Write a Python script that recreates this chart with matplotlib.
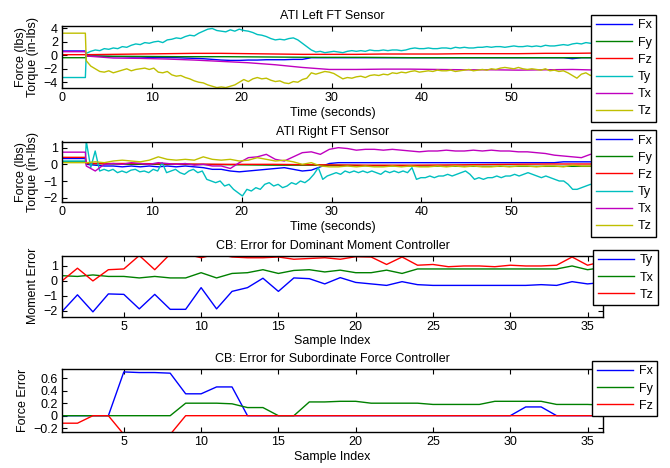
import numpy as np
import matplotlib
matplotlib.use("Agg")
import matplotlib.pyplot as plt
from matplotlib.ticker import FuncFormatter

plt.rcParams['font.family'] = ['Liberation Sans', 'DejaVu Sans']
plt.rcParams['font.size'] = 9

# ---------------- data ----------------
labels6 = ['Fx', 'Fy', 'Fz', 'Ty', 'Tx', 'Tz']
pre_t = [0.0, 1.3, 2.6]

# Left sensor: values before the step (t = 0..2.6 s)
L_pre = {'Fx': 0.65, 'Fy': -0.35, 'Fz': 0.1, 'Ty': -3.3, 'Tx': 0.55, 'Tz': 3.3}
L_Fx = [-0.1, -0.1, -0.15, -0.2, -0.2, -0.25, -0.25, -0.3, -0.3, -0.35,
        -0.35, -0.4, -0.45, -0.5, -0.6, -0.7, -0.75, -0.75, -0.7, -0.7,
        -0.65, -0.65, -0.65, -0.6, -0.6, -0.35, -0.35, -0.35, -0.35, -0.35,
        -0.35, -0.35, -0.35, -0.35, -0.35, -0.35, -0.35, -0.35, -0.35, -0.35,
        -0.35, -0.35, -0.35, -0.35, -0.35, -0.35, -0.35, -0.35, -0.35, -0.35,
        -0.35, -0.35, -0.35, -0.35, -0.5, -0.35, -0.35, -0.35]
L_Fy = [-0.1, -0.15, -0.2, -0.2, -0.25, -0.3, -0.3, -0.35, -0.35, -0.35, -0.35, -0.35]
L_Fz = [0.1, 0.15, 0.2, 0.25, 0.3, 0.3, 0.25, 0.2, 0.15, 0.15,
        0.15, 0.2, 0.2, 0.2, 0.25, 0.25, 0.25, 0.3, 0.3, 0.35]
L_Ty = [0.3, 0.6, 0.8, 0.7, 1.0, 0.9, 1.1, 1.0, 1.3, 1.2,
        1.5, 1.7, 1.6, 1.9, 1.8, 2.0, 2.1, 1.9, 2.3, 2.4,
        2.6, 2.5, 2.8, 3.0, 2.9, 3.3, 3.6, 3.9, 4.0, 3.7,
        3.6, 3.5, 3.8, 3.6, 3.9, 3.7, 3.6, 3.4, 3.1, 3.0,
        2.8, 2.5, 2.3, 2.4, 2.3, 2.5, 2.6, 2.3, 1.8, 1.3,
        0.8, 0.5, 0.6, 0.4, 0.5, 0.6, 0.5, 0.4, 0.6, 0.7,
        0.6, 0.7, 0.6, 0.8, 0.7, 0.7, 0.8, 0.7, 0.8, 0.8,
        0.7, 0.8, 1.0, 1.1, 1.0, 1.0, 1.1, 1.0, 1.0, 1.1,
        1.1, 1.0, 1.2, 1.1, 1.2, 1.1, 1.1, 1.2, 1.2, 1.3,
        1.2, 1.3, 1.3, 1.2, 1.3, 1.4, 1.3, 1.3, 1.4, 1.3,
        1.4, 1.3, 1.5, 1.4, 1.4, 1.5, 1.6, 1.5, 1.7, 1.8,
        1.7, 1.9, 1.8, 1.9, 2.0]
L_Tx = [-0.1, -0.4, -0.45, -0.55, -0.7, -0.9, -1.1, -1.4, -1.8, -2.1,
        -2.1, -2.05, -2.05, -2.1, -2.15, -2.15, -2.2, -2.15, -2.1, -2.2]
L_Tz = [-0.8, -1.6, -2.0, -2.4, -2.5, -2.3, -2.6, -2.4, -2.2, -2.0,
        -2.3, -2.1, -2.0, -1.9, -2.1, -1.9, -2.5, -2.6, -2.4, -2.9,
        -3.1, -3.0, -3.3, -3.5, -3.8, -4.0, -4.1, -4.4, -4.6, -4.8,
        -4.7, -4.8, -4.6, -4.4, -4.0, -3.6, -3.9, -3.5, -3.3, -3.5,
        -3.4, -3.7, -3.9, -3.8, -4.1, -4.2, -3.9, -4.0, -3.6, -3.4,
        -2.6, -2.8, -2.6, -2.4, -2.5, -2.7, -3.1, -3.5, -3.3, -3.4,
        -3.2, -3.1, -3.3, -3.0, -2.9, -3.0, -2.8, -2.9, -2.6, -2.7,
        -2.5, -2.6, -2.4, -2.3, -2.5, -2.4, -2.3, -2.4, -2.2, -2.3,
        -2.3, -2.2, -2.4, -2.3, -2.2, -2.1, -2.3, -2.2, -2.1, -2.2,
        -2.0, -2.1, -1.9, -1.8, -1.9, -2.0, -1.8, -2.0, -2.1, -2.0,
        -2.1, -2.2, -2.0, -2.3, -2.2, -2.4, -2.3, -2.6, -3.0, -3.4,
        -2.8, -2.6, -3.0, -2.7, -2.9]

# Right sensor
R_pre = {'Fx': 0.35, 'Fy': 0.15, 'Fz': 0.42, 'Ty': 0.2, 'Tx': 0.73, 'Tz': 0.1}
R_Fx = [0.0, -0.05, -0.1, -0.1, -0.15, -0.1, -0.15, -0.1, -0.15, -0.1,
        -0.15, -0.1, -0.15, -0.2, -0.3, -0.3, -0.4, -0.45, -0.4, -0.35,
        -0.3, -0.25, -0.2, -0.3, -0.4, -0.35, -0.15, 0.05, 0.1, 0.1,
        0.1, 0.1, 0.1, 0.1, 0.1, 0.1, 0.1, 0.1, 0.1, 0.1,
        0.1, 0.1, 0.1, 0.1, 0.1, 0.1, 0.1, 0.1, 0.1, 0.1,
        0.1, 0.1, 0.1, 0.15, 0.15, 0.15, 0.15, 0.15]
R_Fy = [0.05, 0.0, 0.0, -0.02, -0.05, -0.05, -0.08, -0.1, -0.12, -0.12, -0.12, -0.12]
R_Fz = [0.05, 0.05, 0.02, 0.0, 0.0, -0.03, -0.05, -0.05, -0.03, 0.0, 0.02, 0.02]
R_Ty = [1.4, -0.2, 0.8, -0.4, -0.3, -0.4, -0.3, -0.5, -0.4, -0.5, -0.35,
        -0.3, -0.45, -0.4, -0.5, -0.3, -0.4, 0.1, -0.5, -0.4, -0.3,
        -0.5, -0.6, -0.4, -0.3, -0.5, -0.4, -0.9, -1.0, -1.1, -1.0,
        -1.3, -1.2, -1.5, -1.7, -1.9, -1.5, -1.6, -1.4, -1.5, -1.2,
        -1.1, -1.3, -1.2, -1.4, -1.3, -1.1, -1.2, -1.0, -1.1, -0.9,
        -0.6, -0.2, -0.9, -0.7, -0.6, -0.5, -0.6, -0.4, -0.5, -0.4,
        -0.5, -0.4, -0.5, -0.4, -0.5, -0.6, -0.4, -0.5, -0.4, -0.5,
        -0.4, -0.5, -0.2, -0.9, -0.8, -0.8, -0.7, -0.8, -0.7, -0.7,
        -0.6, -0.7, -0.6, -0.5, -0.4, -0.6, -0.9, -0.8, -0.9, -0.8,
        -0.8, -0.7, -0.8, -0.7, -0.7, -0.6, -0.7, -0.6, -0.5, -0.6,
        -0.7, -0.8, -0.7, -0.8, -0.9, -1.0, -1.0, -1.2, -1.5, -1.5,
        -1.4, -1.3, -1.2, -1.3, -1.2]
R_Tx = [-0.1, -0.4, 0.0, 0.05, 0.0, 0.1, 0.05, 0.0, 0.1, 0.05,
        0.0, 0.05, -0.05, 0.0, -0.1, -0.1, -0.25, 0.1, 0.4, 0.45,
        0.6, 0.3, 0.2, 0.45, 0.7, 0.75, 0.6, 0.9, 1.0, 0.95,
        0.85, 0.9, 0.9, 0.85, 0.9, 0.85, 0.8, 0.75, 0.8, 0.8,
        0.85, 0.8, 0.8, 0.85, 0.8, 0.85, 0.8, 0.8, 0.75, 0.75,
        0.7, 0.65, 0.55, 0.5, 0.45, 0.4, 0.6, 0.6]
R_Tz = [0.1, 0.15, 0.1, 0.2, 0.25, 0.2, 0.15, 0.25, 0.45, 0.3,
        0.25, 0.3, 0.25, 0.45, 0.3, 0.25, 0.3, 0.2, 0.25, 0.4,
        0.3, 0.2, 0.25, 0.15, 0.0, 0.1, -0.1, -0.15, -0.15, -0.1,
        -0.15, -0.1, -0.15, -0.15, -0.1, -0.15, -0.1, -0.15, -0.15, -0.1,
        -0.15, -0.1, -0.15, -0.1, -0.15, -0.15, -0.1, -0.15, -0.1, -0.1,
        -0.15, -0.1, -0.1, -0.15, -0.05, -0.1, -0.1, -0.1]

# Dominant moment controller error (samples 1..36)
samples = list(range(1, 37))
M_Ty = [-2.05, -0.93, -2.07, -0.87, -0.9, -1.87, -0.9, -1.9, -1.9, -0.45,
        -1.87, -0.7, -0.45, 0.18, -0.7, 0.2, 0.15, -0.2, 0.22, -0.1,
        -0.2, -0.3, -0.05, -0.25, -0.3, -0.3, -0.3, -0.3, -0.3, -0.3,
        -0.3, -0.25, -0.3, -0.05, -0.2, -0.1]
M_Tx = [0.35, 0.3, 0.4, 0.3, 0.3, 0.2, 0.3, 0.2, 0.2, 0.55,
        0.2, 0.5, 0.55, 0.75, 0.5, 0.7, 0.75, 0.6, 0.72, 0.55,
        0.55, 0.72, 0.5, 0.8, 0.8, 0.8, 0.8, 0.8, 0.8, 0.8,
        0.8, 0.8, 0.8, 1.0, 0.75, 0.9]
M_Tz = [0.0, 0.85, 0.0, 0.75, 0.8, 1.7, 0.75, 1.8, 1.8, 1.55,
        1.8, 1.6, 1.55, 1.55, 1.6, 1.45, 1.5, 1.55, 1.45, 1.62,
        1.6, 1.1, 1.6, 1.05, 1.1, 0.95, 1.0, 1.0, 0.95, 1.05,
        1.0, 1.0, 1.05, 1.6, 1.05, 1.3]

# Subordinate force controller error
F_Fx = [0, 0, 0, 0, 0.7, 0.69, 0.69, 0.68, 0.35, 0.35,
        0.46, 0.46, 0, 0, 0, 0, 0, 0, 0, 0,
        0, 0, 0, 0, 0, 0, 0, 0, 0, 0,
        0.14, 0.14, 0, 0, 0, 0]
F_Fy = [0, 0, 0, 0, 0, 0, 0, 0, 0.2, 0.2,
        0.2, 0.19, 0.13, 0.13, 0, 0, 0.22, 0.22, 0.23, 0.23,
        0.2, 0.2, 0.2, 0.2, 0.18, 0.18, 0.18, 0.18, 0.23, 0.23,
        0.23, 0.23, 0.18, 0.18, 0.18, 0.17]
F_Fz = [-0.12, -0.12, 0, 0, -0.3, -0.3, -0.3, -0.3, 0, 0,
        0, 0, 0, 0, 0, 0, 0, 0, 0, 0,
        0, 0, 0, 0, 0, 0, 0, 0, 0, 0,
        0, 0, 0, 0, 0, 0]

# ---------------- styling ----------------
C = {'Fx': (0, 0, 1), 'Fy': (0, 0.5, 0), 'Fz': (1, 0, 0),
     'Ty': (0, 0.75, 0.75), 'Tx': (0.75, 0, 0.75), 'Tz': (0.75, 0.75, 0)}
W, H = 670, 468
fig = plt.figure(figsize=(W / 100, H / 100), dpi=100)


def axes_px(left, top, right, bottom):
    return fig.add_axes([left / W, 1 - bottom / H, (right - left) / W, (bottom - top) / H])


def style(ax):
    ax.tick_params(direction='in', top=True, right=True, length=3.5, width=0.8,
                   labelsize=9, pad=3)
    for s in ax.spines.values():
        s.set_linewidth(1.0)
    ax.yaxis.set_major_formatter(FuncFormatter(lambda v, p: ('%g' % v).replace('-', '\u2212')))
    ax.xaxis.set_major_formatter(FuncFormatter(lambda v, p: '%g' % v))


def legend(ax, lines, labs, x, y):
    leg = ax.legend(lines, labs, loc='upper left', bbox_to_anchor=(x / W, 1 - y / H),
                    bbox_transform=fig.transFigure, fancybox=False, edgecolor='black',
                    framealpha=1, borderaxespad=0, handlelength=2.9, handletextpad=0.5,
                    labelspacing=0.41, borderpad=0.36, fontsize=9)
    leg.get_frame().set_linewidth(1.0)
    leg.set_zorder(10)


def series(pre, post):
    t = np.concatenate([pre_t, np.linspace(2.7, 59.8, len(post))])
    v = np.concatenate([[pre] * len(pre_t), post])
    return t, v


LW = 1.0
# ---- panel 1
ax1 = axes_px(62, 26, 603, 88)
data_L = {'Fx': L_Fx, 'Fy': L_Fy, 'Fz': L_Fz, 'Ty': L_Ty, 'Tx': L_Tx, 'Tz': L_Tz}
lines = []
for k in labels6:
    t, v = series(L_pre[k], data_L[k])
    lines += ax1.plot(t, v, color=C[k], lw=LW)
ax1.set_xlim(0, 60.2)
ax1.set_ylim(-4.86, 4.37)
ax1.set_yticks([-4, -2, 0, 2, 4])
ax1.set_xticks([0, 10, 20, 30, 40, 50])
style(ax1)
ax1.set_title('ATI Left FT Sensor', fontsize=9, pad=5)
ax1.set_xlabel('Time (seconds)', fontsize=9, labelpad=2)
ax1.set_ylabel('Force (lbs)\nTorque (in-lbs)', fontsize=9, linespacing=1.0, labelpad=3)
legend(ax1, lines, labels6, 591, 15)

# ---- panel 2
ax2 = axes_px(62, 141.5, 603, 202)
data_R = {'Fx': R_Fx, 'Fy': R_Fy, 'Fz': R_Fz, 'Ty': R_Ty, 'Tx': R_Tx, 'Tz': R_Tz}
lines = []
for k in labels6:
    t, v = series(R_pre[k], data_R[k])
    lines += ax2.plot(t, v, color=C[k], lw=LW)
ax2.set_xlim(0, 60.2)
ax2.set_ylim(-2.26, 1.37)
ax2.set_yticks([-2, -1, 0, 1])
ax2.set_xticks([0, 10, 20, 30, 40, 50])
style(ax2)
ax2.set_title('ATI Right FT Sensor', fontsize=9, pad=5)
ax2.set_xlabel('Time (seconds)', fontsize=9, labelpad=2)
ax2.set_ylabel('Force (lbs)\nTorque (in-lbs)', fontsize=9, linespacing=1.0, labelpad=3)
legend(ax2, lines, labels6, 591, 130)

# ---- panel 3
ax3 = axes_px(62, 255.5, 603, 316.5)
lines = []
for lab, v, c in [('Ty', M_Ty, 'Fx'), ('Tx', M_Tx, 'Fy'), ('Tz', M_Tz, 'Fz')]:
    lines += ax3.plot(samples, v, color=C[c], lw=LW)
ax3.set_xlim(1, 36)
ax3.set_ylim(-2.38, 1.7)
ax3.set_yticks([-2, -1, 0, 1])
ax3.set_xticks([5, 10, 15, 20, 25, 30, 35])
style(ax3)
ax3.set_title('CB: Error for Dominant Moment Controller', fontsize=9, pad=5)
ax3.set_xlabel('Sample Index', fontsize=9, labelpad=2)
ax3.set_ylabel('Moment Error', fontsize=9, labelpad=3)
legend(ax3, lines, ['Ty', 'Tx', 'Tz'], 593, 250)

# ---- panel 4
ax4 = axes_px(62, 369.3, 603, 431.7)
lines = []
for lab, v in [('Fx', F_Fx), ('Fy', F_Fy), ('Fz', F_Fz)]:
    lines += ax4.plot(samples, v, color=C[lab], lw=LW)
ax4.set_xlim(1, 36)
ax4.set_ylim(-0.256, 0.742)
ax4.set_yticks([-0.2, 0, 0.2, 0.4, 0.6])
ax4.set_xticks([5, 10, 15, 20, 25, 30, 35])
style(ax4)
ax4.set_title('CB: Error for Subordinate Force Controller', fontsize=9, pad=5)
ax4.set_xlabel('Sample Index', fontsize=9, labelpad=2)
ax4.set_ylabel('Force Error', fontsize=9, labelpad=3)
legend(ax4, lines, ['Fx', 'Fy', 'Fz'], 592, 361)

fig.savefig('out.png', dpi=100)
